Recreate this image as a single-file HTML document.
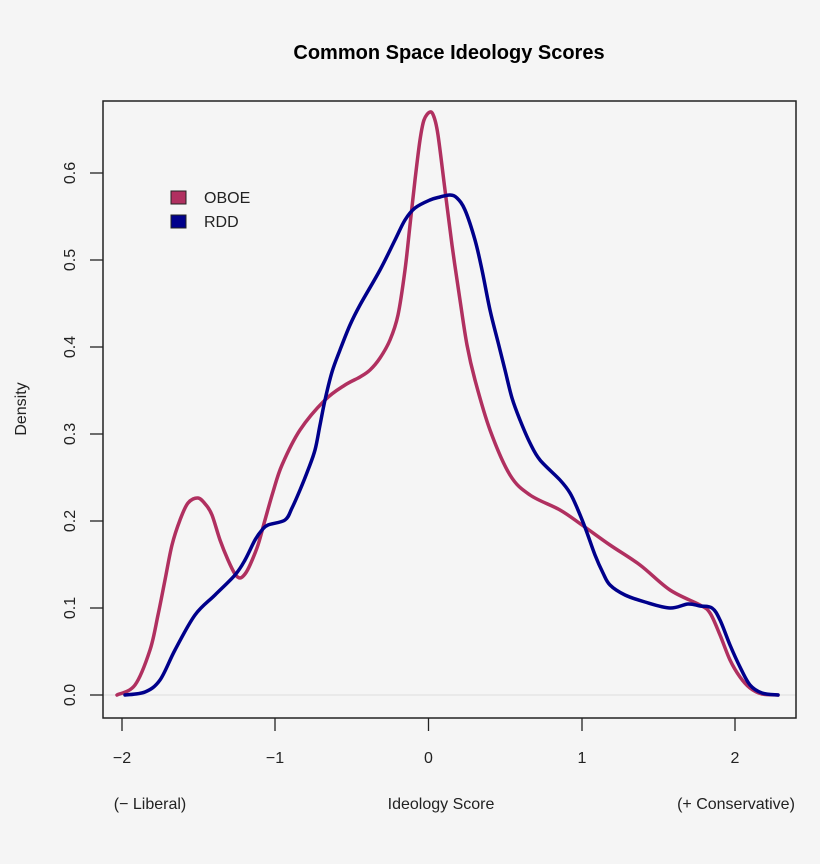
<!DOCTYPE html><html><head><style>body{margin:0;background:#f5f5f5}svg{display:block}</style></head><body>
<svg width="820" height="864" viewBox="0 0 820 864" xmlns="http://www.w3.org/2000/svg" font-family="Liberation Sans, sans-serif">
<rect width="820" height="864" fill="#f5f5f5"/>
<text x="449" y="59" text-anchor="middle" font-size="20" font-weight="bold" fill="#000">Common Space Ideology Scores</text>
<line x1="103" y1="695" x2="796" y2="695" stroke="#ddd" stroke-width="1"/>
<path id="oboe" fill="none" stroke="#b03060" stroke-width="3.5" stroke-linejoin="round" stroke-linecap="round" d=""/>
<path id="rdd" fill="none" stroke="#00008b" stroke-width="3.5" stroke-linejoin="round" stroke-linecap="round" d=""/>
<rect x="103" y="101" width="693" height="617" fill="none" stroke="#222" stroke-width="1.5"/>
<g stroke="#222" stroke-width="1.3">
<line x1="122" y1="718" x2="122" y2="731"/><line x1="275" y1="718" x2="275" y2="731"/><line x1="428.5" y1="718" x2="428.5" y2="731"/><line x1="582" y1="718" x2="582" y2="731"/><line x1="735" y1="718" x2="735" y2="731"/>
<line x1="90" y1="695" x2="103" y2="695"/><line x1="90" y1="608" x2="103" y2="608"/><line x1="90" y1="521" x2="103" y2="521"/><line x1="90" y1="434" x2="103" y2="434"/><line x1="90" y1="347" x2="103" y2="347"/><line x1="90" y1="260" x2="103" y2="260"/><line x1="90" y1="173" x2="103" y2="173"/>
</g>
<g font-size="16" fill="#222" text-anchor="middle">
<text x="122" y="763">−2</text><text x="275" y="763">−1</text><text x="428.5" y="763">0</text><text x="582" y="763">1</text><text x="735" y="763">2</text>
<text x="150" y="809">(− Liberal)</text><text x="441" y="809">Ideology Score</text><text x="736" y="809">(+ Conservative)</text>
<g transform="translate(75,0)">
<text transform="translate(0,695) rotate(-90)">0.0</text><text transform="translate(0,608) rotate(-90)">0.1</text><text transform="translate(0,521) rotate(-90)">0.2</text><text transform="translate(0,434) rotate(-90)">0.3</text><text transform="translate(0,347) rotate(-90)">0.4</text><text transform="translate(0,260) rotate(-90)">0.5</text><text transform="translate(0,173) rotate(-90)">0.6</text>
</g>
<text transform="translate(26,409) rotate(-90)">Density</text>
</g>
<rect x="171" y="191" width="15" height="13" fill="#b03060" stroke="#222"/>
<rect x="171" y="215" width="15" height="13" fill="#00008b" stroke="#222"/>
<text x="204" y="203" font-size="16" fill="#222">OBOE</text>
<text x="204" y="227" font-size="16" fill="#222">RDD</text>
</svg>
<script>
function cr(s){var p=s.trim().split(/\s+/).map(function(t){return t.split(',').map(Number)});var d='M'+p[0][0]+','+p[0][1];
for(var i=0;i<p.length-1;i++){var a=p[i-1]||p[i],b=p[i],c=p[i+1],e=p[i+2]||c;
d+=' C'+(b[0]+(c[0]-a[0])/6)+','+(b[1]+(c[1]-a[1])/6)+' '+(c[0]-(e[0]-b[0])/6)+','+(c[1]-(e[1]-b[1])/6)+' '+c[0]+','+c[1];}return d;}
document.getElementById('oboe').setAttribute('d',cr("117,695 135,685 150,650 158,615 165,580 172,545 180,520 188,503 198,498 206,505 212,515 220,540 228,560 235,574 240,578 245,574 250,565 258,545 265,520 273,492 282,465 300,430 325,400 345,385 360,377 370,370 380,358 390,340 398,315 405,270 410,225 415,180 420,140 424,120 430,112 434,117 438,135 445,190 452,245 460,300 467,345 475,380 490,430 510,475 530,495 560,510 582,525 610,545 640,565 670,590 700,605 710,613 720,635 730,660 740,677 750,688 762,694 778,695"));
document.getElementById('rdd').setAttribute('d',cr("125,695 145,692 160,680 175,650 195,615 215,595 235,575 245,560 255,540 262,530 268,525 285,520 292,508 300,490 308,470 315,450 320,425 325,400 332,372 340,350 350,325 360,305 380,270 395,240 405,220 415,208 430,200 440,197 450,195 457,198 465,210 475,240 482,270 490,310 498,342 505,370 512,398 520,420 530,443 540,460 560,480 570,493 578,510 586,530 595,555 603,573 610,585 625,595 645,602 670,608 688,604 700,606 712,608 720,620 730,645 740,667 750,685 762,693 778,695"));
</script>
</body></html>
